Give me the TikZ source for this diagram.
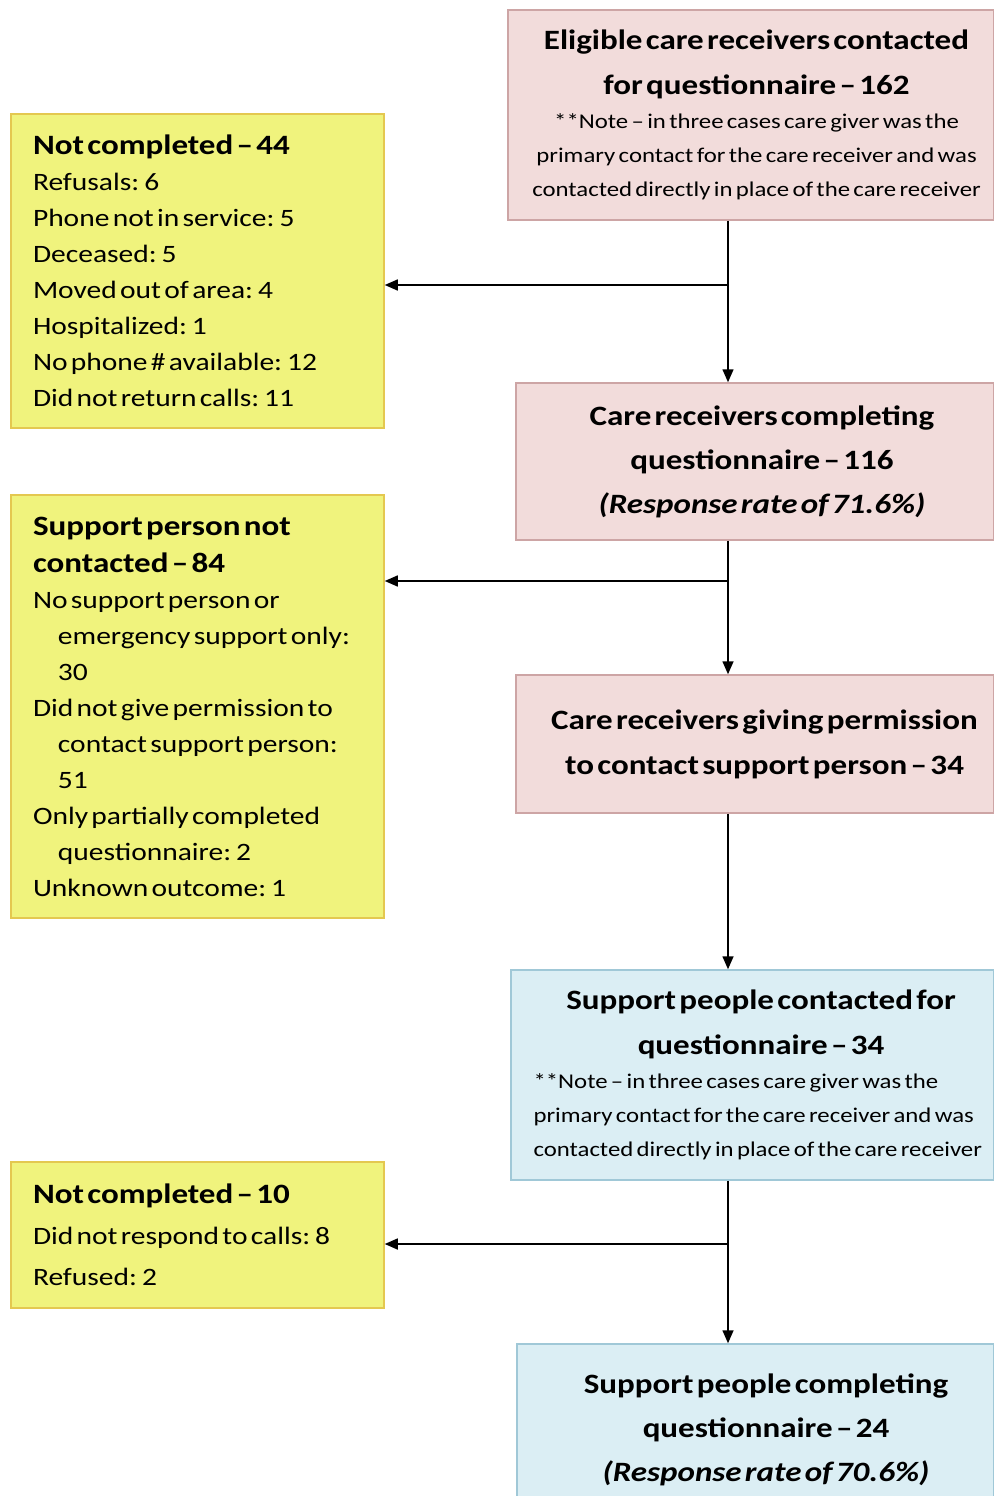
\documentclass[tikz,border=0pt]{standalone}
\usepackage{fontspec}
\setmainfont{Carlito}[FakeStretch=1.18,WordSpace=1.2]
\usetikzlibrary{arrows.meta}
\definecolor{pinkfill}{RGB}{242,220,219}
\definecolor{pinkline}{RGB}{205,165,165}
\definecolor{yelfill}{RGB}{240,243,125}
\definecolor{yelline}{RGB}{228,200,80}
\definecolor{bluefill}{RGB}{219,238,244}
\definecolor{blueline}{RGB}{160,200,215}
\newcommand{\hd}{\fontsize{28}{45}\selectfont\bfseries}
\newcommand{\nt}{\fontsize{21}{34}\selectfont}
\newcommand{\bd}{\fontsize{25}{36}\selectfont}
\newcommand{\ind}{\hspace*{25pt}}
\newcommand{\sh}[1]{\hspace*{#1pt}}
\begin{document}
\begin{tikzpicture}[x=1pt,y=1pt,
  box/.style={rectangle, line width=1.5pt, inner sep=0pt},
  pinkbox/.style={box, draw=pinkline, fill=pinkfill, align=center},
  bluebox/.style={box, draw=blueline, fill=bluefill, align=center},
  yelbox/.style={box, draw=yelline, fill=yelfill, align=left, minimum width=373pt, text width=329pt},
  arr/.style={line width=1.5pt, -{Triangle[length=13pt,width=11pt]}},
  ln/.style={line width=1.5pt}]
\useasboundingbox (0,0) rectangle (993,-1496);
\fill[white] (0,0) rectangle (993,-1496);

% right column
\node[pinkbox, minimum width=486pt, minimum height=210pt, text width=480pt] (b1) at (751,-115)
 {{\hd \sh{11}Eligible care receivers contacted\\ \sh{11}for questionnaire – 162\par}
  {\nt \sh{11}**Note – in three cases care giver was the\\ \sh{11}primary contact for the care receiver and was\\ \sh{11}contacted directly in place of the care receiver\par}};

\node[pinkbox, minimum width=478pt, minimum height=157pt, text width=472pt] (b2) at (755,-461.5)
 {{\fontsize{28}{44}\selectfont\bfseries \sh{14}Care receivers completing\\ \sh{14}questionnaire – 116\\ \itshape \sh{14}(Response rate of 71.6\%)\par}};

\node[pinkbox, minimum width=478pt, minimum height=138pt, text width=476pt] (b3) at (755,-744)
 {{\fontsize{28}{45}\selectfont\bfseries \sh{19}Care receivers giving permission\\ \sh{19}to contact support person – 34\par}};

\node[bluebox, minimum width=483pt, minimum height=210pt, text width=478pt] (b4) at (752.5,-1075)
 {{\hd \sh{17}Support people contacted for\\ \sh{17}questionnaire – 34\par}
  {\nt\raggedright\hspace*{20pt}**Note – in three cases care giver was the\\ \hspace*{20pt}primary contact for the care receiver and was\\ \hspace*{20pt}contacted directly in place of the care receiver\par}};

\node[bluebox, minimum width=477pt, minimum height=172pt, text width=472pt] (b5) at (755.5,-1430)
 {{\fontsize{28}{44}\selectfont\bfseries \sh{21}Support people completing\\ \sh{21}questionnaire – 24\\ \itshape \sh{21}(Response rate of 70.6\%)\par}};

% left column
\node[yelbox, minimum height=314pt] (y1) at (197.5,-271)
 {{\bd{\fontsize{28}{36}\selectfont\bfseries Not completed – 44}\\
  Refusals: 6\\ Phone not in service: 5\\ Deceased: 5\\ Moved out of area: 4\\ Hospitalized: 1\\ No phone \# available: 12\\ Did not return calls: 11\par}};

\node[yelbox, minimum height=423pt] (y2) at (197.5,-706.5)
 {{\fontsize{28}{37}\selectfont\bfseries Support person not\\ contacted – 84\par}
  {\bd No support person or\\ \ind emergency support only:\\ \ind 30\\
  Did not give permission to\\ \ind contact support person:\\ \ind 51\\
  Only partially completed\\ \ind questionnaire: 2\\ Unknown outcome: 1\par}};

\node[yelbox, minimum height=146pt] (y3) at (197.5,-1235)
 {{\fontsize{25}{41}\selectfont{\fontsize{28}{41}\selectfont\bfseries Not completed – 10}\\
  Did not respond to calls: 8\\ Refused: 2\par}};

% connectors
\coordinate (j1) at (728,-285);
\coordinate (j2) at (728,-581);
\coordinate (j3) at (728,-1244);
\draw[ln] (b1.south -| j1) -- (j1);
\draw[arr] (j1) -- (j1 |- b2.north);
\draw[arr] (j1) -- (y1.east |- j1);
\draw[ln] (b2.south -| j2) -- (j2);
\draw[arr] (j2) -- (j2 |- b3.north);
\draw[arr] (j2) -- (y2.east |- j2);
\draw[arr] (b3.south -| j2) -- (b4.north -| j2);
\draw[ln] (b4.south -| j3) -- (j3);
\draw[arr] (j3) -- (j3 |- b5.north);
\draw[arr] (j3) -- (y3.east |- j3);
\end{tikzpicture}
\end{document}
